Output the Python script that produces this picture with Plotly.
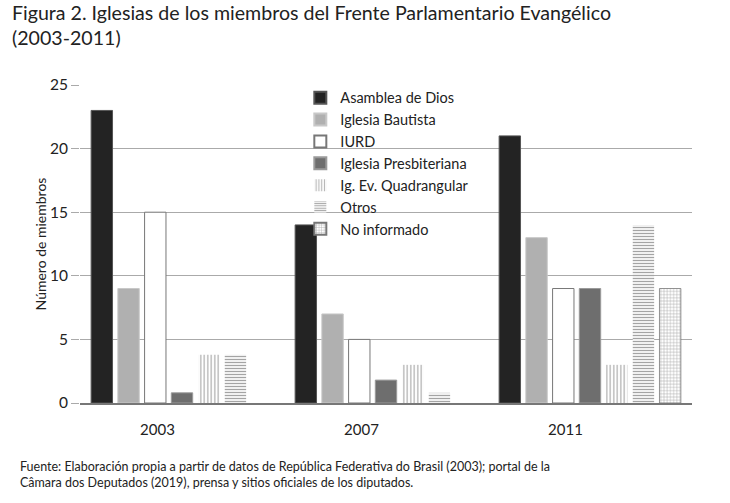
import plotly.graph_objects as go

years = ["2003", "2007", "2011"]
series_names = ["Asamblea de Dios", "Iglesia Bautista", "IURD", "Iglesia Presbiteriana",
                "Ig. Ev. Quadrangular", "Otros", "No informado"]
asamblea = [23, 14, 21]
bautista = [9, 7, 13]
iurd = [15, 5, 9]
presbiteriana = [0.8, 1.8, 9]
quadrangular = [3.8, 3, 3]
otros = [3.8, 0.8, 14]
no_informado = [0, 0, 9]
y_ticks = [0, 5, 10, 15, 20, 25]

values = [asamblea, bautista, iurd, presbiteriana, quadrangular, otros, no_informado]
styles = [
    dict(color="#232323", line=dict(color="#555555", width=1)),
    dict(color="#b0b0b0", line=dict(color="#c8c8c8", width=1)),
    dict(color="#ffffff", line=dict(color="#777777", width=1)),
    dict(color="#6e6e6e", line=dict(color="#9a9a9a", width=1)),
    dict(color="#ffffff", line=dict(color="#ffffff", width=0),
         pattern=dict(shape="|", fgcolor="#6f6f6f", bgcolor="#ffffff", size=3.5, solidity=0.4)),
    dict(color="#ffffff", line=dict(color="#ffffff", width=0),
         pattern=dict(shape="-", fgcolor="#4a4a4a", bgcolor="#ffffff", size=3, solidity=0.45)),
    dict(color="#ffffff", line=dict(color="#777777", width=[0, 0, 0.8]),
         pattern=dict(shape="+", fgcolor="#5e5e5e", bgcolor="#ffffff", size=3.2, solidity=0.3)),
]

idx = list(range(len(years)))
fig = go.Figure()
for name, vals, st in zip(series_names, values, styles):
    fig.add_trace(go.Bar(x=idx, y=vals, name=name, marker=st))

FONT = "Lato"
fig.update_layout(
    width=730, height=503,
    paper_bgcolor="white", plot_bgcolor="white",
    margin=dict(l=80, r=38, t=85, b=100),
    barmode="group", bargap=0.083, bargroupgap=0.2,
    font=dict(family=FONT, color="#222222", size=15),
    showlegend=True,
    legend=dict(x=0.36, y=1.01, xanchor="left", yanchor="top",
                bgcolor="rgba(0,0,0,0)", font=dict(size=14.5, color="#222222"),
                itemsizing="constant", traceorder="normal", tracegroupgap=0),
    xaxis=dict(range=[-0.5, 2.5], tickmode="array",
               tickvals=[i - 0.12 for i in idx], ticktext=years,
               ticks="", showgrid=False, zeroline=False,
               showline=True, linecolor="#777777", linewidth=1.5,
               ticklabelstandoff=12, tickfont=dict(size=15)),
    yaxis=dict(range=[0, 25], tickvals=y_ticks, showgrid=True,
               gridcolor="#aaaaaa", gridwidth=1, zeroline=False,
               ticks="outside", ticklen=8, tickcolor="#aaaaaa", tickwidth=1,
               tickfont=dict(size=15.5),
               title=dict(text="Número de miembros", font=dict(size=14), standoff=0)),
    annotations=[
        dict(text="Figura 2. Iglesias de los miembros del Frente Parlamentario Evangélico<br>(2003-2011)",
             xref="paper", yref="paper", x=-0.115, y=1.27, xanchor="left", yanchor="top",
             align="left", showarrow=False, font=dict(size=19.6, color="#222222")),
        dict(text="Fuente: Elaboración propia a partir de datos de República Federativa do Brasil (2003); portal de la<br>Câmara dos Deputados (2019), prensa y sitios oficiales de los diputados.",
             xref="paper", yref="paper", x=-0.101, y=-0.17, xanchor="left", yanchor="top",
             align="left", showarrow=False, font=dict(size=12.5, color="#222222")),
    ],
)
fig.write_html("out.html", config={"displayModeBar": False},
               post_script="document.body.style.margin='0';document.body.style.overflow='hidden';")
